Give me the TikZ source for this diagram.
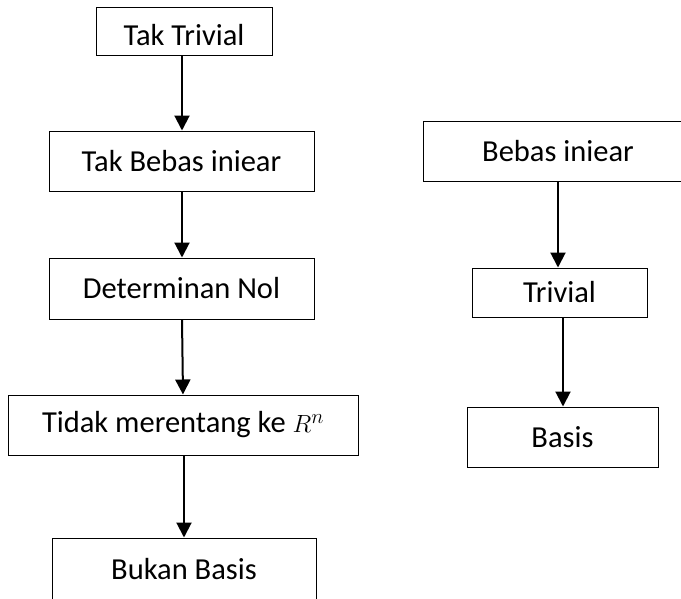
\documentclass[tikz,border=0pt]{standalone}
\usepackage{fontspec}
\setmainfont{Carlito}
\usetikzlibrary{arrows.meta}
\begin{document}
\begin{tikzpicture}[x=1pt,y=-1pt,
  box/.style={draw=black,line width=1pt,rectangle,inner sep=0pt,font=\fontsize{30.5}{36}\selectfont},
  arr/.style={line width=2pt,-{Triangle[length=15pt,width=15pt]}}]
\useasboundingbox (0,0) rectangle (681,598);
\clip (0,0) rectangle (681,598);
% left column
\node[box,minimum width=176pt,minimum height=48pt,text height=29pt,text depth=0pt] (n1) at (184,31) {Tak Trivial};
\node[box,minimum width=265pt,minimum height=60pt] (n2) at (181.5,161) {Tak Bebas iniear};
\node[box,minimum width=265pt,minimum height=61pt] (n3) at (181.5,288.5) {Determinan Nol};
\node[box,minimum width=350pt,minimum height=60pt] (n4) at (183,425) {Tidak merentang ke $R^n$};
\node[box,minimum width=264pt,minimum height=62pt] (n5) at (184,569) {Bukan Basis};
% right column
\node[box,minimum width=270pt,minimum height=60pt] (r1) at (558,151) {Bebas iniear};
\node[box,minimum width=175pt,minimum height=49pt] (r2) at (559.5,292.5) {Trivial};
\node[box,minimum width=191pt,minimum height=60pt] (r3) at (562.5,437) {Basis};
% arrows
\draw[arr] ([xshift=-2pt]n1.south) -- ([xshift=0.5pt]n2.north);
\draw[arr] ([xshift=0.5pt]n2.south) -- ([xshift=0.5pt]n3.north);
\draw[arr] ([xshift=0.5pt]n3.south) -- (n4.north);
\draw[arr] ([xshift=1pt]n4.south) -- (n5.north);
\draw[arr] (r1.south) -- ([xshift=-1.5pt]r2.north);
\draw[arr] ([xshift=3.5pt]r2.south) -- ([xshift=0.5pt]r3.north);
\end{tikzpicture}
\end{document}
